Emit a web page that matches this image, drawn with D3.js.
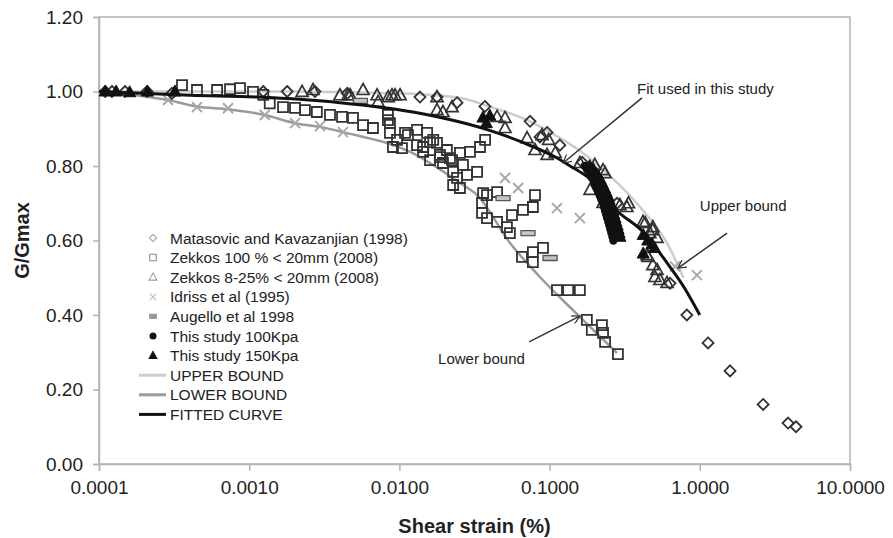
<!DOCTYPE html>
<html>
<head>
<meta charset="utf-8">
<title>G/Gmax vs shear strain</title>
<script src="https://cdn.jsdelivr.net/npm/d3@7/dist/d3.min.js"></script>
<style>
  body { margin: 0; background: #fff; }
  svg text { font-family: "Liberation Sans", Arial, sans-serif; fill: #222; }
</style>
</head>
<body>
<div class="chart-area"></div>
<script>
// ---- data (strain in %, G/Gmax) ----
var xTicks = [0.0001, 0.001, 0.01, 0.1, 1, 10];
var yTicks = [0, 0.2, 0.4, 0.6, 0.8, 1.0, 1.2];

var upperBound = [[0.0001,1.0],[0.002,1.0],[0.006,0.997],[0.0134,0.993],[0.0253,0.983],[0.0395,0.96],
  [0.0655,0.929],[0.109,0.883],[0.16,0.84],[0.241,0.781],[0.40,0.690],[0.605,0.593],[0.78,0.50]];

var lowerBound = [[0.0001,1.0],[0.000288,0.977],[0.000449,0.96],[0.000723,0.952],[0.00127,0.937],[0.00202,0.915],
  [0.00296,0.905],[0.00421,0.891],[0.0118,0.838],[0.0265,0.749],[0.0329,0.722],[0.0545,0.593],[0.0862,0.502],
  [0.159,0.395],[0.281,0.298]];

var fittedCurve = [[0.0001,1.0],[0.000404,0.99],[0.00113,0.985],[0.00403,0.97],[0.0123,0.945],[0.0253,0.918],
  [0.0389,0.897],[0.0655,0.864],[0.109,0.824],[0.137,0.80],[0.186,0.765],[0.281,0.68],[0.419,0.623],
  [0.605,0.54],[0.798,0.47],[1.0,0.40]];

var matasovic = [[0.00011,1.0],[0.000122,1.0],[0.000149,1.0],[0.000209,1.0],[0.000306,0.995],[0.00124,1.0],
  [0.00179,1.0],[0.00274,1.0],[0.0045,0.995],[0.0137,0.985],[0.0178,0.985],[0.0242,0.97],[0.0371,0.96],
  [0.0741,0.92],[0.0863,0.878],[0.0962,0.89],[0.117,0.856],[0.165,0.81],[0.281,0.70],[0.634,0.485],
  [0.82,0.40],[1.135,0.325],[1.59,0.25],[2.64,0.16],[3.87,0.11],[4.37,0.10]];

var zekkos100 = [[0.000357,1.017],[0.000449,1.004],[0.000611,1.004],[0.000745,1.006],[0.000869,1.009],
  [0.00106,0.999],[0.00124,0.991],[0.00137,0.968],[0.00168,0.958],[0.00202,0.956],[0.00235,0.950],
  [0.00282,0.945],[0.00345,0.937],[0.00415,0.932],[0.00491,0.929],[0.00573,0.910],[0.00667,0.902],
  [0.00839,0.923],[0.00839,0.937],[0.00865,0.915],[0.00865,0.889],[0.00906,0.851],[0.00964,0.870],
  [0.0104,0.848],[0.0109,0.889],[0.0114,0.883],[0.0131,0.897],[0.0144,0.851],[0.0153,0.889],[0.0160,0.864],
  [0.0168,0.870],[0.0178,0.862],[0.0186,0.824],[0.0207,0.843],[0.0144,0.838],[0.0160,0.816],[0.0195,0.808],
  [0.0224,0.816],[0.0131,0.856],[0.0186,0.830],[0.0217,0.821],[0.0253,0.835],[0.0295,0.838],[0.0344,0.851],
  [0.0372,0.870],[0.0265,0.803],[0.0228,0.784],[0.0242,0.768],[0.0282,0.776],[0.0329,0.784],[0.0253,0.741],
  [0.0383,0.722],[0.0447,0.730],[0.0228,0.749],[0.0361,0.727],[0.0355,0.701],[0.0355,0.674],[0.0383,0.660],
  [0.0447,0.650],[0.0520,0.636],[0.0544,0.620],[0.0562,0.668],[0.0665,0.682],[0.0774,0.690],[0.0799,0.722],
  [0.0655,0.556],[0.0774,0.569],[0.0904,0.580],[0.0774,0.542],[0.112,0.467],[0.133,0.467],[0.159,0.467],
  [0.177,0.387],[0.191,0.360],[0.223,0.373],[0.227,0.352],[0.234,0.328],[0.285,0.295]];

var zekkos825 = [[0.00225,0.999],[0.00266,1.004],[0.00402,0.99],[0.00455,0.99],[0.00470,0.99],[0.00573,1.004],
  [0.00710,0.99],[0.00721,0.972],[0.00843,0.985],[0.00893,0.99],[0.00935,0.99],[0.0101,0.99],[0.0178,0.985],
  [0.0178,0.95],[0.0195,0.945],[0.0224,0.958],[0.0447,0.932],[0.0505,0.929],[0.0505,0.902],[0.0708,0.875],
  [0.0799,0.843],[0.0891,0.883],[0.0962,0.83],[0.0985,0.87],[0.109,0.835],[0.159,0.808],[0.195,0.789],
  [0.227,0.789],[0.186,0.736],[0.227,0.701],[0.327,0.69],[0.432,0.647],[0.487,0.636],[0.465,0.62],
  [0.445,0.561],[0.519,0.521],[0.503,0.502],[0.543,0.494],[0.605,0.486],[0.200,0.803],[0.234,0.781],
  [0.294,0.695],[0.335,0.70],[0.419,0.65],[0.486,0.628],[0.519,0.607],[0.452,0.556],[0.487,0.534]];

var idriss = [[0.000288,0.977],[0.000449,0.958],[0.000723,0.955],[0.00127,0.937],[0.00202,0.915],[0.00296,0.907],
  [0.00421,0.891],[0.0505,0.768],[0.0617,0.741],[0.112,0.687],[0.159,0.660],[0.684,0.53],[0.957,0.507]];

var augello = [[0.0055,0.975],[0.049,0.714],[0.0718,0.62],[0.1007,0.553]];

var study100 = [[0.171,0.80],[0.178,0.79],[0.186,0.78],[0.19,0.77],[0.197,0.76],[0.201,0.75],[0.206,0.74],
  [0.211,0.73],[0.216,0.72],[0.221,0.71],[0.227,0.70],[0.230,0.69],[0.234,0.68],[0.238,0.67],[0.242,0.66],
  [0.246,0.65],[0.250,0.64],[0.254,0.63],[0.258,0.62],[0.262,0.61],[0.266,0.60]];

var study150 = [[0.00011,1.0],[0.00013,1.0],[0.00016,0.998],[0.00021,1.0],[0.00032,1.0],
  [0.036,0.93],[0.038,0.915],[0.040,0.935],
  [0.185,0.80],[0.196,0.79],[0.205,0.78],[0.213,0.77],[0.22,0.76],[0.226,0.75],[0.232,0.74],[0.238,0.73],
  [0.244,0.72],[0.249,0.71],[0.254,0.70],[0.259,0.69],[0.264,0.68],[0.268,0.67],[0.273,0.66],[0.277,0.65],
  [0.282,0.64],[0.286,0.63],[0.29,0.62],[0.294,0.61],
  [0.42,0.615],[0.45,0.60],[0.48,0.59],[0.50,0.58],[0.42,0.565]];

var legendLabels = ["Matasovic and Kavazanjian (1998)", "Zekkos 100 % < 20mm (2008)", "Zekkos 8-25% < 20mm (2008)",
  "Idriss et al (1995)", "Augello et al 1998", "This study 100Kpa", "This study 150Kpa",
  "UPPER BOUND", "LOWER BOUND", "FITTED CURVE"];

// ---- layout ----
var W = 893, H = 538;
var margin = { left: 99, right: 43, top: 17, bottom: 74 };

var svg = d3.select(".chart-area").append("svg")
    .attr("width", W).attr("height", H);

var x = d3.scaleLog().domain([0.0001, 10]).range([margin.left, W - margin.right]);
var y = d3.scaleLinear().domain([0, 1.2]).range([H - margin.bottom, margin.top]);

var axisColor = "#b3b3b3";

// frame
svg.append("rect")
    .attr("x", x(0.0001)).attr("y", y(1.2))
    .attr("width", x(10) - x(0.0001)).attr("height", y(0) - y(1.2))
    .attr("fill", "none").attr("stroke", axisColor).attr("stroke-width", 1.5);

var xAxis = svg.append("g")
    .attr("transform", "translate(0," + y(0) + ")")
    .call(d3.axisBottom(x).tickValues(xTicks).tickFormat(d3.format(".4f")).tickSize(7).tickPadding(10));
var yAxis = svg.append("g")
    .attr("transform", "translate(" + x(0.0001) + ",0)")
    .call(d3.axisLeft(y).tickValues(yTicks).tickFormat(d3.format(".2f")).tickSize(6).tickPadding(10));

[xAxis, yAxis].forEach(function(g) {
  g.select(".domain").attr("stroke", axisColor).attr("stroke-width", 1.5);
  g.selectAll(".tick line").attr("stroke", axisColor).attr("stroke-width", 1.5);
  g.selectAll(".tick text").attr("font-size", "19px").attr("fill", "#222")
    .attr("font-family", "Liberation Sans, Arial, sans-serif");
});

// axis titles
svg.append("text")
    .attr("x", (x(0.0001) + x(10)) / 2).attr("y", 533)
    .attr("text-anchor", "middle").attr("font-size", "20px").attr("font-weight", "bold")
    .text("Shear strain (%)");
svg.append("text")
    .attr("transform", "translate(29," + (y(0) + y(1.2)) / 2 + ") rotate(-90)")
    .attr("text-anchor", "middle").attr("font-size", "20px").attr("font-weight", "bold")
    .text("G/Gmax");

// ---- curves ----
var line = d3.line()
    .x(function(d) { return x(d[0]); })
    .y(function(d) { return y(d[1]); })
    .curve(d3.curveMonotoneX);

function drawCurve(data, color, w) {
  svg.append("path").datum(data)
    .attr("d", line).attr("fill", "none")
    .attr("stroke", color).attr("stroke-width", w);
}
drawCurve(upperBound, "#cccccc", 2.5);
drawCurve(lowerBound, "#9a9a9a", 2.5);

// ---- markers ----
var shapes = {
  diamond: "M0,-5.5L5.5,0L0,5.5L-5.5,0Z",
  square: "M-5,-5L5,-5L5,5L-5,5Z",
  triangle: "M0,-6.5L6,4.5L-6,4.5Z",
  cross: "M-5,-5L5,5M-5,5L5,-5",
  dash: "M-7,-2.5L7,-2.5L7,2.5L-7,2.5Z"
};

function drawPoints(data, shape, fill, stroke, sw) {
  svg.append("g").selectAll("path")
    .data(data).enter().append("path")
    .attr("transform", function(d) { return "translate(" + x(d[0]) + "," + y(d[1]) + ")"; })
    .attr("d", shapes[shape])
    .attr("fill", fill).attr("stroke", stroke).attr("stroke-width", sw);
}

drawPoints(idriss, "cross", "none", "#a8a8a8", 2);
drawPoints(zekkos100, "square", "none", "#333", 1.8);
drawPoints(zekkos825, "triangle", "none", "#333", 1.7);
drawPoints(matasovic, "diamond", "none", "#333", 1.8);
drawPoints(augello, "dash", "#c4c4c4", "#555", 1.3);

svg.append("g").selectAll("circle")
  .data(study100).enter().append("circle")
  .attr("cx", function(d) { return x(d[0]); })
  .attr("cy", function(d) { return y(d[1]); })
  .attr("r", 4.2).attr("fill", "#111");
drawPoints(study150, "triangle", "#111", "#111", 1);

drawCurve(fittedCurve, "#111", 3);

// ---- annotations ----
svg.append("defs").append("marker")
    .attr("id", "arrow").attr("viewBox", "0 0 10 10")
    .attr("refX", 9).attr("refY", 5)
    .attr("markerWidth", 9).attr("markerHeight", 9)
    .attr("markerUnits", "userSpaceOnUse")
    .attr("orient", "auto")
  .append("path").attr("d", "M0,0L9,5L0,10")
    .attr("fill", "none").attr("stroke", "#333").attr("stroke-width", 1.4);

var notes = [
  { text: "Fit used in this study", tx: 0.382, ty: 0.993, from: [0.412, 0.983], to: [0.123, 0.808] },
  { text: "Upper bound", tx: 1.0, ty: 0.679, from: [1.52, 0.62], to: [0.716, 0.526] },
  { text: "Lower bound", tx: 0.0181, ty: 0.268, from: [0.073, 0.328], to: [0.159, 0.397] }
];
notes.forEach(function(n) {
  svg.append("text").attr("x", x(n.tx)).attr("y", y(n.ty))
    .attr("font-size", "15px").text(n.text);
  svg.append("line")
    .attr("x1", x(n.from[0])).attr("y1", y(n.from[1]))
    .attr("x2", x(n.to[0])).attr("y2", y(n.to[1]))
    .attr("stroke", "#333").attr("stroke-width", 1.5)
    .attr("marker-end", "url(#arrow)");
});

// ---- legend ----
var legend = svg.append("g").attr("transform", "translate(153,238)");
var rowH = 19.6;
var legendMarks = [
  { type: "diamond", fill: "none", stroke: "#999" },
  { type: "square", fill: "none", stroke: "#888" },
  { type: "triangle", fill: "none", stroke: "#999" },
  { type: "cross", fill: "none", stroke: "#bbb" },
  { type: "dash", fill: "#999", stroke: "#999" },
  { type: "circle", fill: "#111" },
  { type: "triangle", fill: "#111", stroke: "#111" },
  { type: "line", stroke: "#cccccc" },
  { type: "line", stroke: "#9a9a9a" },
  { type: "line", stroke: "#111" }
];
legendLabels.forEach(function(lab, i) {
  var row = legend.append("g").attr("transform", "translate(0," + i * rowH + ")");
  var m = legendMarks[i];
  if (m.type === "line") {
    row.append("line").attr("x1", -14).attr("x2", 13).attr("y1", 0).attr("y2", 0)
      .attr("stroke", m.stroke).attr("stroke-width", 3);
  } else if (m.type === "circle") {
    row.append("circle").attr("r", 3.5).attr("fill", m.fill);
  } else {
    row.append("path").attr("d", shapes[m.type])
      .attr("transform", m.type === "dash" ? "scale(0.5,0.8)" : "scale(0.65)")
      .attr("fill", m.fill).attr("stroke", m.stroke).attr("stroke-width", 1.6);
  }
  row.append("text").attr("x", 17).attr("y", 5.5)
    .attr("font-size", "15.5px").text(lab);
});
</script>
</body>
</html>
